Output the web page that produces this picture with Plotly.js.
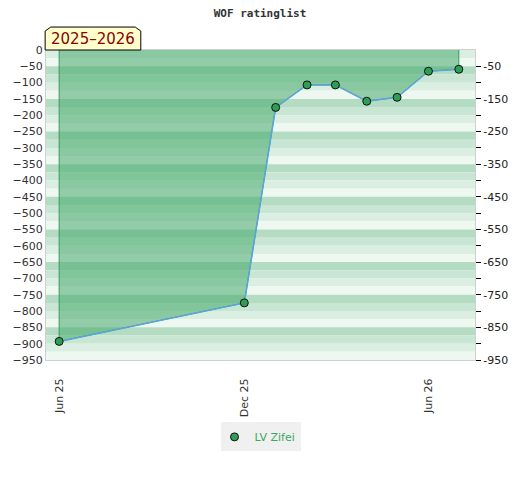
<!DOCTYPE html>
<html>
<head>
<meta charset="utf-8">
<script src="https://cdn.plot.ly/plotly-3.0.1.min.js"></script>
<style>html,body{margin:0;padding:0;background:#fff}#chart{width:520px;height:480px}</style>
</head>
<body>
<div id="chart"></div>
<script>
// Data
const dates = ['2025-06-01','2025-12-01','2026-01-01','2026-02-01','2026-03-01','2026-04-01','2026-05-01','2026-06-01','2026-07-01'];
const ratings = [-893, -775, -176, -107, -107, -157, -145, -65, -59];
const seriesName = 'LV Zifei';
const seasonLabel = '2025\u20132026';
const chartTitle = 'WOF ratinglist';
const xTickVals = ['2025-06-01','2025-12-01','2026-06-01'];
const xTickText = ['Jun 25','Dec 25','Jun 26'];

// Y tick arrays
const leftTicks = [];
for (let v = 0; v >= -950; v -= 50) leftTicks.push(v);
const rightTickVals = [];
const rightTickText = [];
for (let v = -50; v >= -950; v -= 50) {
  rightTickVals.push(v);
  rightTickText.push(((-v) % 100 === 50) ? String(v) : '');
}

// Background stripes (4 bands per 100 units)
const bandColors = ['#b3dcc3', '#c9e6d4', '#dbeee2', '#eff7f1'];
const shapes = [];
for (let top = 50; top > -950; top -= 100) {
  for (let i = 0; i < 4; i++) {
    const y0 = Math.min(0, top - i * 25);
    const y1 = Math.max(-950, top - (i + 1) * 25);
    if (y0 <= y1) continue;
    shapes.push({type:'rect', xref:'paper', yref:'y', x0:0, x1:1, y0:y0, y1:y1,
      fillcolor:bandColors[i], line:{width:0}, layer:'below'});
  }
}
// season label box with cut corners
shapes.push({type:'path', xref:'paper', yref:'paper',
  path:'M -0.002,1.0 L -0.002,1.061 L 0.011,1.074 L 0.208,1.074 L 0.221,1.061 L 0.221,1.0 Z',
  fillcolor:'#ffffcc', line:{color:'#000', width:1}, layer:'above'});

// Fill polygon from data (closed to 0 at both ends)
const fillX = [dates[0]].concat(dates, [dates[dates.length-1]]);
const fillY = [0].concat(ratings, [0]);

const traces = [
  {x:fillX, y:fillY, type:'scatter', mode:'lines', fill:'toself',
   fillcolor:'rgba(70,170,108,0.55)', line:{color:'#3a9a5c', width:1},
   hoverinfo:'skip', showlegend:false},
  {x:dates, y:ratings, type:'scatter', mode:'lines',
   line:{color:'#5ba3dc', width:1.5}, showlegend:false},
  {x:dates, y:ratings, type:'scatter', mode:'markers', name:seriesName,
   marker:{color:'#2f9e55', size:8, line:{color:'#111', width:1}}},
  {x:[dates[0]], y:[0], yaxis:'y2', type:'scatter', mode:'markers',
   marker:{opacity:0}, showlegend:false, hoverinfo:'skip'}
];

const layout = {
  width:520, height:480,
  margin:{l:46, r:45, t:50, b:120},
  paper_bgcolor:'#fff', plot_bgcolor:'#fff',
  font:{family:'DejaVu Sans', size:11, color:'#333'},
  title:{text:chartTitle, x:0.5, xanchor:'center', y:0.973, yanchor:'middle',
    font:{family:'DejaVu Sans Mono', size:11, color:'#333', weight:'bold'}},
  xaxis:{type:'date', range:['2025-05-19','2026-07-17'],
    tickvals:xTickVals, ticktext:xTickText, tickangle:-90,
    ticks:'outside', ticklen:13, tickcolor:'rgba(0,0,0,0)',
    showgrid:false, zeroline:false, showline:true, linecolor:'#d0d0d0', mirror:true,
    tickfont:{size:11, color:'#333'}},
  yaxis:{range:[-950, 0], tickvals:leftTicks, ticks:'', showgrid:false, zeroline:false,
    showline:true, linecolor:'#d0d0d0', mirror:true, tickfont:{size:11, color:'#333'}},
  yaxis2:{range:[-950, 0], overlaying:'y', side:'right', tickvals:rightTickVals,
    ticktext:rightTickText, ticks:'outside', ticklen:5, tickcolor:'#000',
    showgrid:false, zeroline:false, showline:false, tickfont:{size:11, color:'#222'}},
  showlegend:true,
  legend:{orientation:'h', x:0.5, xanchor:'center', y:-0.248, yanchor:'middle',
    bgcolor:'#f0f0f0', indentation:-6, itemwidth:30,
    font:{size:11, color:'#3aa85e'}},
  shapes:shapes,
  annotations:[{xref:'paper', yref:'paper', x:0.109, y:1.037, text:seasonLabel,
    showarrow:false, xanchor:'center', yanchor:'middle',
    font:{family:'DejaVu Sans', size:15, color:'#8b0000'}}]
};

Plotly.newPlot('chart', traces, layout, {displayModeBar:false, staticPlot:true});
</script>
</body>
</html>
